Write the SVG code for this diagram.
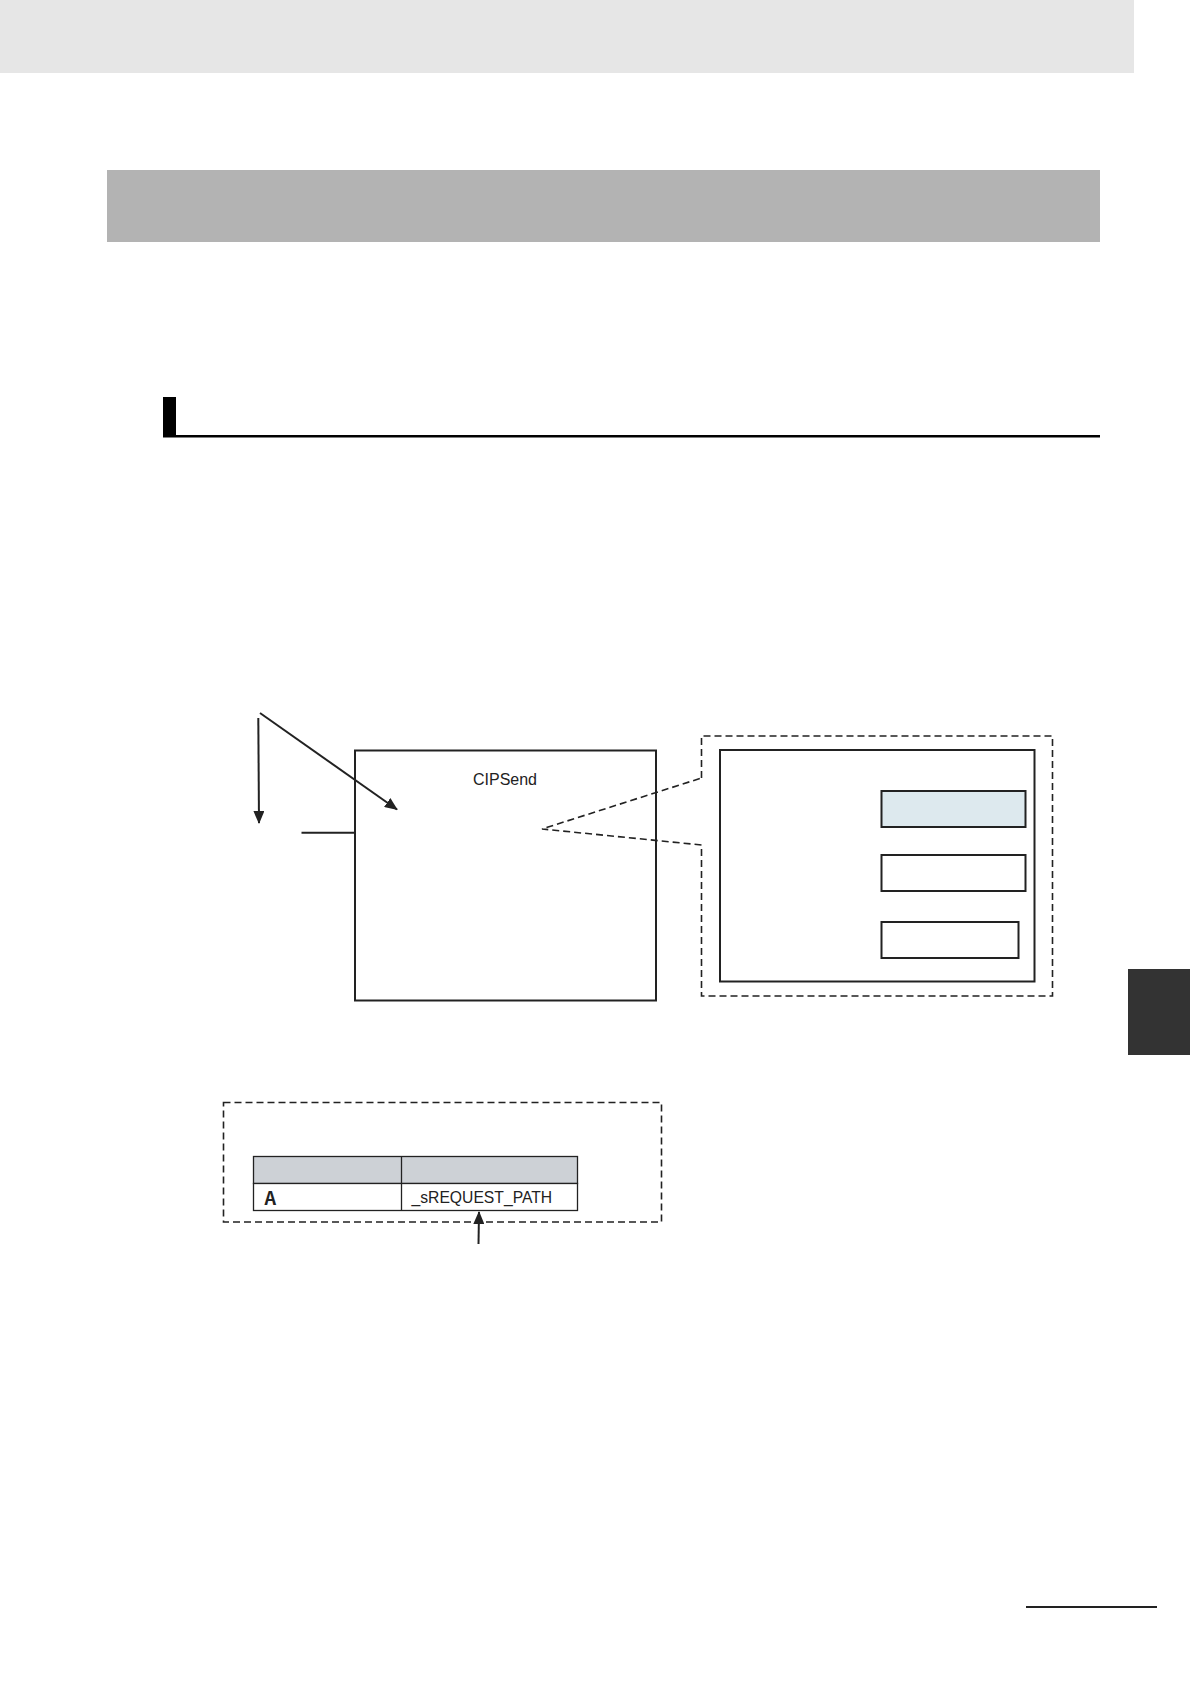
<svg xmlns="http://www.w3.org/2000/svg" width="1190" height="1684" viewBox="0 0 1190 1684">
<style>
.solid{fill:none;stroke:#222;stroke-width:2}
.dash{fill:none;stroke:#222;stroke-width:1.6;stroke-dasharray:7 4}
.line{fill:none;stroke:#222;stroke-width:2}
.txt{font-family:"Liberation Sans",Arial,sans-serif;fill:#222}
</style>
<defs>
<marker id="arr" viewBox="0 0 13 11" refX="12" refY="5.5" markerWidth="13" markerHeight="11" markerUnits="userSpaceOnUse" orient="auto">
<path d="M0,0 L13,5.5 L0,11 Z" fill="#222"/>
</marker>
</defs>
<rect width="1190" height="1684" fill="#fff"/>
<g id="page-decor">
<rect x="0" y="0" width="1134" height="73" fill="#e6e6e6"/>
<rect x="107" y="170" width="993" height="72" fill="#b3b3b3"/>
<rect x="163" y="397" width="13" height="40" fill="#000"/>
<rect x="163" y="435" width="937" height="2.5" fill="#000"/>
<rect x="1128" y="969" width="62" height="86" fill="#333"/>
<rect x="1026" y="1606" width="131" height="2" fill="#222"/>
</g>
<g id="cipsend-block">
<rect class="solid" x="355" y="750.5" width="301" height="250"/>
<text class="txt" x="505" y="785" font-size="16" text-anchor="middle">CIPSend</text>
</g>
<g id="callout">
<path class="dash" d="M701.5,778 L701.5,736 L1052.5,736 L1052.5,996 L701.5,996 L701.5,845 L542,829 Z"/>
<rect class="solid" x="720" y="750" width="314.5" height="231.5"/>
<rect id="field1" x="881.5" y="791" width="144" height="36" fill="#dde9ee" stroke="#222" stroke-width="2"/>
<rect id="field2" class="solid" x="881.5" y="855" width="144" height="36"/>
<rect id="field3" class="solid" x="881.5" y="922" width="137" height="36"/>
</g>
<g id="variable-table">
<rect class="dash" x="223.5" y="1102.5" width="438" height="119.5"/>
<rect x="253.5" y="1156.5" width="324" height="27" fill="#cdd1d6" stroke="#222" stroke-width="1.3"/>
<rect x="253.5" y="1183.5" width="324" height="27" fill="#fff" stroke="#222" stroke-width="1.3"/>
<line x1="401.5" y1="1156.5" x2="401.5" y2="1210.5" stroke="#222" stroke-width="1.3"/>
<text x="264.5" y="1205" font-size="18" font-weight="bold" font-family="'Noto Sans CJK JP','Liberation Sans',sans-serif" fill="#222">A</text>
<text class="txt" x="411.5" y="1202.5" font-size="15.7">_sREQUEST_PATH</text>
</g>
<g id="connectors">
<line class="line" x1="260" y1="713" x2="397" y2="809.5" marker-end="url(#arr)"/>
<line class="line" x1="258.3" y1="718" x2="259" y2="823" marker-end="url(#arr)"/>
<line class="line" x1="301.5" y1="832.7" x2="356" y2="832.7"/>
<line class="line" x1="478.5" y1="1244" x2="479" y2="1212" marker-end="url(#arr)"/>
</g>
</svg>
